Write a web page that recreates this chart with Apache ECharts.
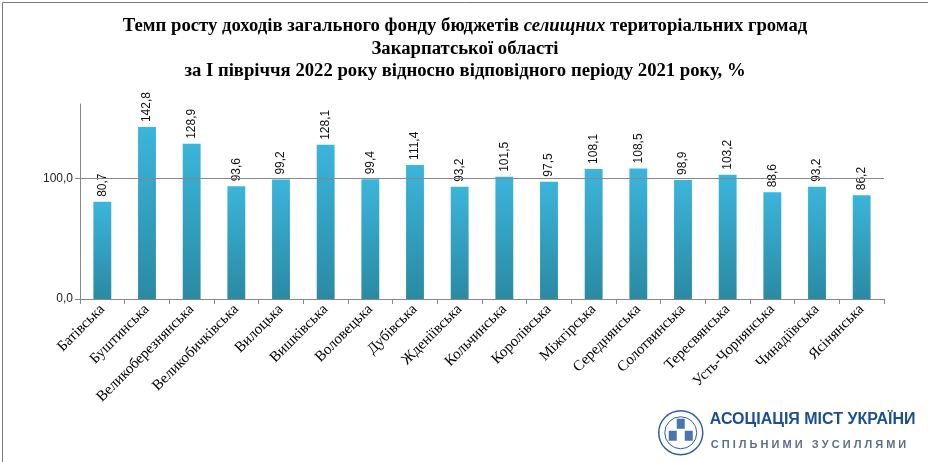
<!DOCTYPE html>
<html><head><meta charset="utf-8">
<script src="https://cdn.jsdelivr.net/npm/echarts@6/dist/echarts.min.js"></script>
<style>html,body{margin:0;padding:0;background:#fff}#c{width:928px;height:462px}</style>
</head><body><div id="c"></div>
<script>
const categories = ['Батівська','Буштинська','Великоберезнянська','Великобичківська','Вилоцька','Вишківська','Воловецька','Дубівська','Жденіївська','Кольчинська','Королівська','Міжгірська','Середнянська','Солотвинська','Тересвянська','Усть-Чорнянська','Чинадіївська','Ясінянська'];
const values = [80.7,142.8,128.9,93.6,99.2,128.1,99.4,111.4,93.2,101.5,97.5,108.1,108.5,98.9,103.2,88.6,93.2,86.2];
const yTicks = [0,100];
const titleLines = ['Темп росту доходів загального фонду бюджетів ','селищних',' територіальних громад','Закарпатської області','за І півріччя 2022 року відносно відповідного періоду 2021 року, %'];
const logoTitle = 'АСОЦІАЦІЯ МІСТ УКРАЇНИ';
const logoSub = 'СПІЛЬНИМИ ЗУСИЛЛЯМИ';
const fmt = v => Number(v).toFixed(1).replace('.', ',');

const chart = echarts.init(document.getElementById('c'));
chart.setOption({
  animation:false,
  backgroundColor:'#fff',
  title:{
    text:'{i|'+titleLines[0]+'}{it|'+titleLines[1]+'}{i|'+titleLines[2]+'}\n{i|'+titleLines[3]+'}\n{i|'+titleLines[4]+'}',
    left:460, top:10, textAlign:'center',
    textStyle:{rich:{
      i:{fontFamily:'Liberation Serif',fontWeight:'bold',fontSize:18.7,color:'#000',lineHeight:22.5},
      it:{fontFamily:'Liberation Serif',fontStyle:'italic',fontSize:18.7,color:'#000',lineHeight:22.5}
    }}
  },
  grid:{left:80,right:44,top:104,bottom:163,containLabel:false},
  xAxis:{
    type:'category', data:categories,
    axisLine:{lineStyle:{color:'#888'}},
    axisTick:{show:true,alignWithLabel:false,length:5,lineStyle:{color:'#888'}},
    axisLabel:{rotate:45,interval:0,fontFamily:'Liberation Serif',fontSize:15,color:'#000',margin:8}
  },
  yAxis:{
    type:'value', min:0, max:162, interval:100,
    axisLine:{show:true,lineStyle:{color:'#888'}},
    axisTick:{show:true,length:5,lineStyle:{color:'#888'},customValues:yTicks},
    axisLabel:{fontFamily:'Liberation Sans',fontSize:12,color:'#222',customValues:yTicks,formatter:v=>fmt(v),margin:7},
    splitLine:{show:false}
  },
  series:[{
    type:'bar', data:values, barWidth:'40%',
    itemStyle:{color:new echarts.graphic.LinearGradient(0,0,0,1,[{offset:0,color:'#3bb5db'},{offset:1,color:'#2a8aa3'}])},
    label:{show:true,position:'top',rotate:90,align:'left',verticalAlign:'middle',distance:5,
      fontFamily:'Liberation Sans',fontSize:12,color:'#111',formatter:p=>fmt(p.value)},
    markLine:{silent:true,symbol:'none',label:{show:false},lineStyle:{color:'#888',type:'solid',width:1},data:[{yAxis:100}]},
    z:3
  }],
  graphic:[
    {type:'rect',left:0,top:0,shape:{x:0.5,y:0.5,width:927,height:461},style:{fill:'none',stroke:'#777',lineWidth:1},silent:true},
    {type:'group',left:658,top:410,children:[
      {type:'circle',shape:{cx:25,cy:24,r:22},style:{fill:'#fff',stroke:'#2f5fa0',lineWidth:1.5}},
      {type:'circle',shape:{cx:25,cy:24,r:16},style:{fill:'none',stroke:'#2f5fa0',lineWidth:1}},
      {type:'rect',shape:{x:21,y:10,width:8,height:10},style:{fill:'#4a74b0'}},
      {type:'rect',shape:{x:13,y:22,width:8,height:10},style:{fill:'#4a74b0'}},
      {type:'rect',shape:{x:29,y:22,width:8,height:10},style:{fill:'#4a74b0'}},
      {type:'text',style:{x:54,y:3,text:logoTitle,fontFamily:'Liberation Sans',fontWeight:'bold',fontSize:16,fill:'#1b4f93'}},
      {type:'text',style:{x:55,y:31,text:logoSub.split('').join(' '),fontFamily:'Liberation Sans',fontWeight:'bold',fontSize:11,fill:'#5a6f8c'}}
    ]}
  ]
});
</script></body></html>
